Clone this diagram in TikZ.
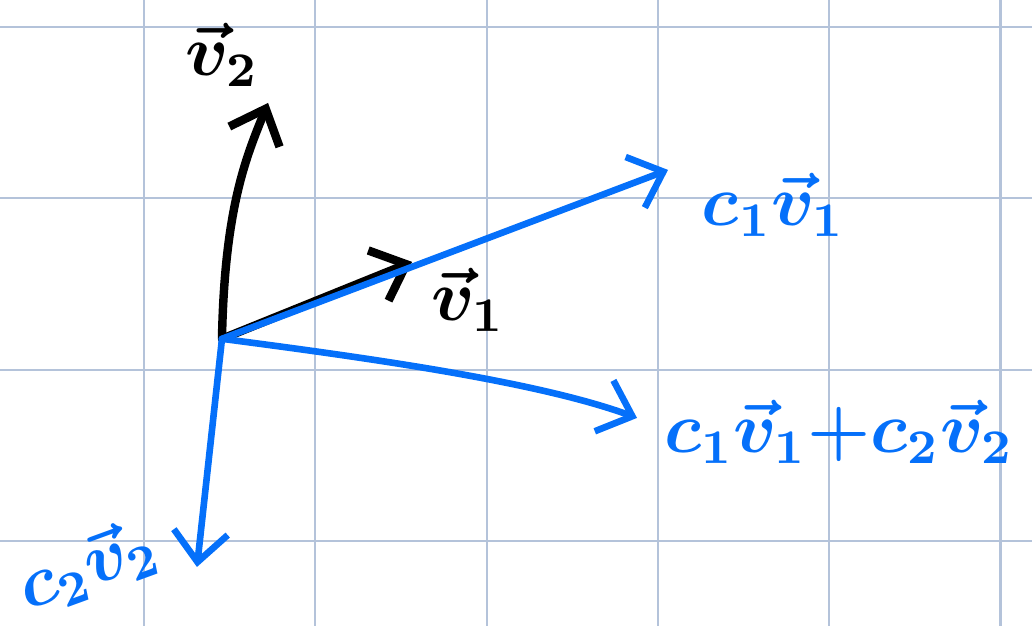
\documentclass[tikz,border=0pt]{standalone}
\usepackage{amsmath,amssymb}
\usetikzlibrary{arrows.meta}
\definecolor{penblue}{RGB}{5,112,250}
\definecolor{gridblue}{RGB}{180,195,218}

\begin{document}
\begin{tikzpicture}[>={Straight Barb[length=5pt,width=9pt]},
  line cap=round, line join=round,
  gridline/.style={gridblue, line width=0.35pt},
  vecblack/.style={->, black, line width=1.4pt},
  vecblue/.style={->, penblue, line width=1.1pt},
  lab/.style={font=\fontsize{12}{14}\selectfont\boldmath, inner sep=0pt}]
  % 页面范围
  \useasboundingbox (-0.841,-0.496) rectangle (5.184,3.158);
  % 方格纸
  \draw[gridline] (-0.841,-0.496) grid (5.184,3.158);
  % 起点与各向量终点
  \coordinate (O) at (0.455,1.18);
  \coordinate (v1) at (1.565,1.629);
  \coordinate (v2) at (0.724,2.557);
  \coordinate (c1v1) at (3.059,2.166);
  \coordinate (sum) at (2.878,0.718);
  \coordinate (c2v2) at (0.309,-0.152);
  % 向量 v1, v2
  \draw[vecblack] (O) .. controls (0.47,1.95) and (0.6,2.25) .. (v2);
  \draw[vecblack] (O) -- (v1);
  % 数乘与和
  \draw[vecblue] (O) -- (c1v1);
  \draw[vecblue] (O) .. controls (1.3,1.07) and (2.3,0.93) .. (sum);
  \draw[vecblue] (O) -- (c2v2);
  % 标注
  \node[lab] (lv2) at (0.455,2.837) {$\vec{v}_2$};
  \node[lab] (lv1) at (1.891,1.407) {$\vec{v}_1$};
  \node[lab, penblue, anchor=west] (lc1v1) at (3.25,1.96) {$c_1\vec{v}_1$};
  \node[lab, penblue, anchor=west] (lsum) at (3.03,0.636) {$c_1\vec{v}_1{+}c_2\vec{v}_2$};
  \node[lab, penblue, rotate=20] (lc2v2) at (-0.33,-0.15) {$c_2\vec{v}_2$};
\end{tikzpicture}
\end{document}
